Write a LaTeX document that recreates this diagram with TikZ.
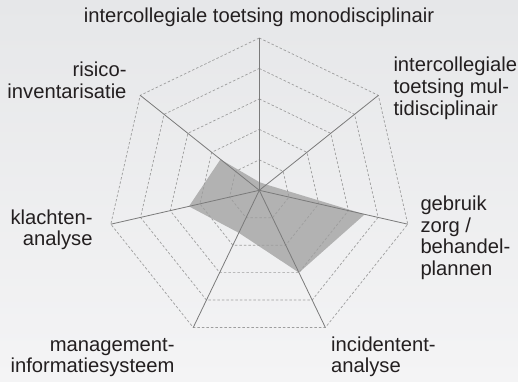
\documentclass[tikz,border=0pt]{standalone}
\usepackage{fontspec}
\setmainfont{Liberation Sans}
\definecolor{bgtop}{HTML}{E6E7E9}
\definecolor{bgbottom}{HTML}{F4F4F5}
\definecolor{labelgray}{HTML}{231F20}
\tikzset{
	x=1pt, y=1pt,
	axis/.style={draw=black!52, line width=0.8pt},
	ring/.style={draw=black!38, line width=0.7pt, dash pattern=on 2.5pt off 2pt},
	score/.style={fill=black!30},
	axislabel/.style={inner sep=0pt, outer sep=0pt, text=labelgray,
		font=\fontsize{20.2}{21.6}\selectfont},
}

\begin{document}
\begin{tikzpicture}
	\shade[top color=bgtop, bottom color=bgbottom] (0,0) rectangle (518,381);
	\useasboundingbox (0,0) rectangle (518,381);

	\coordinate (c) at (259.3,190.7);
	% ends of the seven axes, clockwise from the top
	\foreach \i in {0,...,6}
		\coordinate (a\i) at ([shift={({90-\i*360/7}:152.3)}]c);
	% scores
	\foreach \i/\v in {0/0.27, 1/0.3, 2/3.55, 3/3.0, 4/1.55, 5/2.37, 6/1.63}
		\coordinate (s\i) at ([shift={({90-\i*360/7}:\v*30.46)}]c);

	\fill[score] (s0) -- (s1) -- (s2) -- (s3) -- (s4) -- (s5) -- (s6) -- cycle;

	% dotted rings
	\foreach \r in {1,...,5}
		\draw[ring] ([shift={(90:\r*30.46)}]c)
			\foreach \i in {1,...,6} { -- ([shift={({90-\i*360/7}:\r*30.46)}]c) } -- cycle;

	\foreach \i in {0,...,6}
		\draw[axis] (c) -- (a\i);

	% base of a label with more lines = baseline of its last line
	\node[axislabel, anchor=base] (mono) at (259,358.3) {intercollegiale toetsing monodisciplinair};
	\node[axislabel, anchor=base west, align=left] (multi) at (393.5,266) {intercollegiale\\toetsing mul-\\tidisciplinair};
	\node[axislabel, anchor=base west, align=left] (zorg) at (420.5,105.5) {gebruik\\zorg /\\behandel-\\plannen};
	\node[axislabel, anchor=base west, align=left] (incident) at (331.2,8.3) {incidentent-\\analyse};
	\node[axislabel, anchor=base east, align=right] (mis) at (174.5,8.3) {management-\\informatiesysteem};
	\node[axislabel, anchor=base east, align=right] (klacht) at (92.5,135.3) {klachten-\\analyse};
	\node[axislabel, anchor=base east, align=right] (risico) at (126.5,282.7) {risico-\\inventarisatie};
\end{tikzpicture}
\end{document}
